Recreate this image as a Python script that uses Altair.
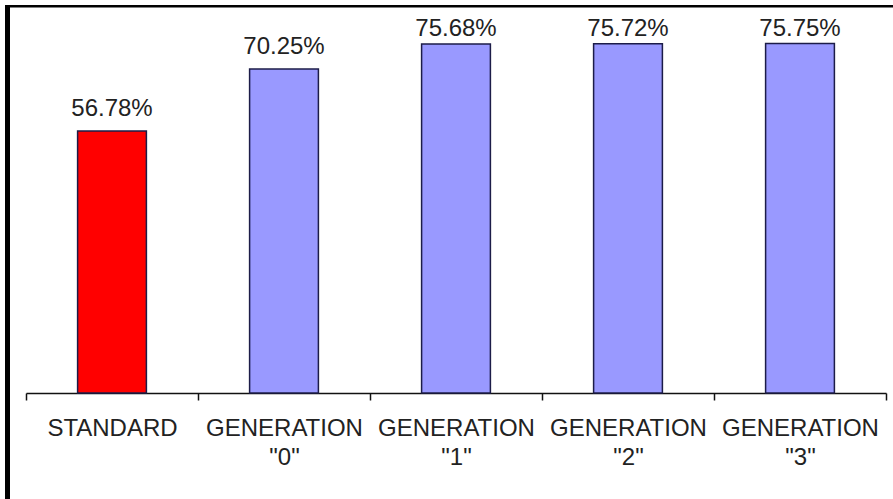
import altair as alt
import pandas as pd

# Success rate per test run
categories = ["STANDARD", 'GENERATION "0"', 'GENERATION "1"', 'GENERATION "2"', 'GENERATION "3"']
success_rates = [56.78, 70.25, 75.68, 75.72, 75.75]

df = pd.DataFrame({"category": categories, "value": success_rates})

FONT = "Liberation Sans"
Y_SCALE = alt.Scale(domain=[0, 80], nice=False, zero=True)

x_enc = alt.X(
    "category:N",
    sort=categories,
    title=None,
    scale=alt.Scale(paddingInner=0, paddingOuter=0),
    axis=alt.Axis(
        labelAngle=0,
        labelExpr="split(datum.label, ' ')",
        labelLineHeight=29,
        labelFont=FONT,
        labelFontSize=24,
        labelColor="#222222",
        labelPadding=16,
        labelLimit=0,
        labelOverlap=False,
        tickBand="extent",
        tickSize=7,
        tickWidth=1.5,
        tickColor="#111111",
        domainColor="#111111",
        domainWidth=1.5,
        grid=False,
    ),
)

bars = alt.Chart(df).mark_bar(
    width=alt.RelativeBandSize(0.4),
    stroke="#1c1c48",
    strokeWidth=1.5,
).encode(
    x=x_enc,
    y=alt.Y("value:Q", scale=Y_SCALE, axis=None),
    fill=alt.condition(
        "datum.category === 'STANDARD'",
        alt.value("#FF0000"),
        alt.value("#9999FF"),
    ),
)

# Value labels sit above each bar, held below the top frame
labels = alt.Chart(df).transform_calculate(
    label="format(datum.value, '.2f') + '%'",
    pos="min(datum.value + 3.25, 77.4)",
).mark_text(
    baseline="alphabetic",
    align="center",
    font=FONT,
    fontSize=24,
    color="#222222",
).encode(
    x=alt.X("category:N", sort=categories),
    y=alt.Y("pos:Q", scale=Y_SCALE, axis=None),
    text="label:N",
)

# Black frame along the left and top edges
frame_df = pd.DataFrame({"k": [0]})
left_edge = alt.Chart(frame_df).mark_rule(color="black", strokeWidth=5).encode(
    x=alt.value(-18.5), y=alt.value(-19), y2=alt.value(480)
)
top_edge = alt.Chart(frame_df).mark_rule(color="black", strokeWidth=2.5).encode(
    x=alt.value(-21), x2=alt.value(870), y=alt.value(-17.75)
)

chart = alt.layer(bars, labels, left_edge, top_edge).properties(
    width=860,
    height=369,
    autosize=alt.AutoSizeParams(type="none"),
    padding={"left": 26, "top": 24, "right": 7, "bottom": 106},
    background="white",
).configure_view(strokeWidth=0)

chart.save("out.html", embed_options={"renderer": "svg", "actions": False})
